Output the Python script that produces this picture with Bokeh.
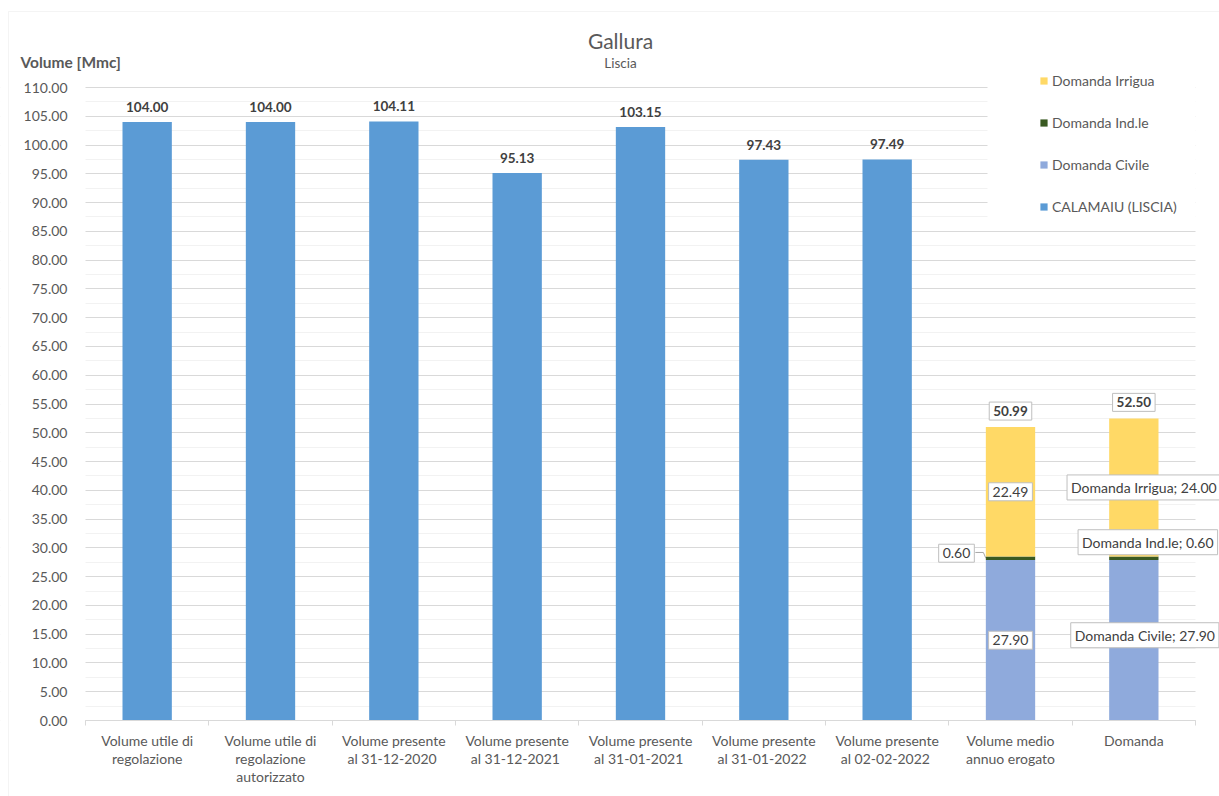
from bokeh.plotting import figure
from bokeh.models import (ColumnDataSource, LabelSet, Label, Legend, LegendItem,
                          FixedTicker, NumeralTickFormatter, BoxAnnotation, Range1d)
from bokeh.core.properties import value
from bokeh.embed import file_html
from bokeh.resources import INLINE

# ---------------- data ----------------
categories = ["Volume utile di\nregolazione",
              "Volume utile di\nregolazione\nautorizzato",
              "Volume presente\nal  31-12-2020",
              "Volume presente\nal  31-12-2021",
              "Volume presente\nal  31-01-2021",
              "Volume presente\nal  31-01-2022",
              "Volume presente\nal  02-02-2022",
              "Volume medio\nannuo erogato",
              "Domanda"]
calamaiu = [104.00, 104.00, 104.11, 95.13, 103.15, 97.43, 97.49]
civile = [27.90, 27.90]
indle = [0.60, 0.60]
irrigua = [22.49, 24.00]
totals = [50.99, 52.50]
y_ticks = [0, 5, 10, 15, 20, 25, 30, 35, 40, 45, 50, 55, 60, 65, 70, 75, 80, 85, 90, 95, 100, 105, 110]

series_names = ["Domanda Civile", "Domanda Ind.le", "Domanda Irrigua"]

# ---------------- style / layout ----------------
col_blue = "#5B9BD5"
col_civ = "#8FAADC"
col_ind = "#3A5A22"
col_irr = "#FFD966"
FONT = "Lato"
TXT = "#595959"
LBL = "#404040"
W, H = 1219, 796
PL, PR, PT, PB = 85, 1195, 87, 720          # plot-area edges in page pixels
YMAX = 110

ncat = len(categories)
cw = (PR - PL) / ncat                        # pixels per category
py = (PB - PT) / YMAX                        # pixels per unit
x_start = 0.5 - PL / cw
x_end = ncat + 0.5 + (W - PR) / cw
y_start = -(H - PB) / py
y_end = YMAX + PT / py

xpos = list(range(1, ncat + 1))
x_blue = xpos[:len(calamaiu)]
x_stack = xpos[len(calamaiu):]

p = figure(width=W, height=H, output_backend="svg", toolbar_location=None,
           x_range=Range1d(x_start, x_end), y_range=Range1d(y_start, y_end),
           min_border=0, min_border_left=0, min_border_right=0,
           min_border_top=0, min_border_bottom=0,
           background_fill_color="white", border_fill_color="white")
p.outline_line_color = None

# ---- axes (placed inside the canvas) ----
p.xaxis.fixed_location = 0
p.xaxis.bounds = (0.5, ncat + 0.5)
p.xaxis.ticker = FixedTicker(ticks=xpos, minor_ticks=[x - 0.5 for x in xpos] + [xpos[-1] + 0.5])
p.xaxis.major_label_overrides = {x: c for x, c in zip(xpos, categories)}
p.xaxis.major_tick_out = 0
p.xaxis.major_tick_in = 0
p.xaxis.minor_tick_out = 5
p.xaxis.minor_tick_in = 0
p.xaxis.minor_tick_line_color = "#d9d9d9"
p.xaxis.axis_line_color = "#d9d9d9"
p.xaxis.major_label_text_font = FONT
p.xaxis.major_label_text_font_size = "14px"
p.xaxis.major_label_text_color = TXT
p.xaxis.major_label_text_line_height = 1.06
p.xaxis.major_label_standoff = 6

p.yaxis.fixed_location = 0.5
p.yaxis.ticker = FixedTicker(ticks=y_ticks, minor_ticks=[t + 2.5 for t in y_ticks[:-1]])
p.yaxis.formatter = NumeralTickFormatter(format="0.00")
p.yaxis.axis_line_color = None
p.yaxis.major_tick_line_color = None
p.yaxis.minor_tick_line_color = None
p.yaxis.major_label_text_font = FONT
p.yaxis.major_label_text_font_size = "14px"
p.yaxis.major_label_text_color = TXT
p.yaxis.major_label_standoff = 12

p.xgrid.grid_line_color = None
p.ygrid.grid_line_color = "#d9d9d9"
p.ygrid.minor_grid_line_color = "#f2f2f2"

# ---- white areas: outside the plot area and behind the legend ----
def cover(l, r, b, t):
    p.add_layout(BoxAnnotation(left=l, right=r, bottom=b, top=t,
                               left_units="screen", right_units="screen",
                               top_units="screen", bottom_units="screen",
                               fill_color="white", fill_alpha=1.0, line_color=None,
                               level="underlay"))

cover(-5, PL, -5, H + 5)
cover(PR, W + 5, -5, H + 5)
cover(987, PR, H - 223, H - 50)

# outer chart border
p.add_layout(BoxAnnotation(left=8, right=W + 10, top=H - 11, bottom=-10,
                           left_units="screen", right_units="screen",
                           top_units="screen", bottom_units="screen",
                           fill_alpha=0, line_color="#d9d9d9", line_width=1,
                           level="underlay"))

# ---- bars ----
src_blue = ColumnDataSource(dict(x=x_blue, v=calamaiu, t=[f"{v:.2f}" for v in calamaiu]))
r_blue = p.vbar(x="x", top="v", width=0.4, source=src_blue, fill_color=col_blue, line_color=None)

src_stack = ColumnDataSource(dict(x=x_stack, civ=civile, ind=indle, irr=irrigua))
rs = p.vbar_stack(["civ", "ind", "irr"], x="x", width=0.4, source=src_stack,
                  fill_color=[col_civ, col_ind, col_irr], line_color=None)

# ---- data labels ----
p.add_layout(LabelSet(x="x", y="v", text="t", source=src_blue, text_align="center",
                      text_baseline="middle", y_offset=15, text_font=value(FONT),
                      text_font_size=value("13.5px"), text_font_style="bold", text_color=LBL))

box_style = dict(text_align="center", text_baseline="middle", text_font=FONT,
                 text_font_size="14px", text_color=LBL,
                 background_fill_color="white", border_line_color="#bfbfbf", padding=4)

for x, tot in zip(x_stack, totals):
    p.add_layout(Label(x=x, y=tot, text=f"{tot:.2f}", y_offset=16,
                       **dict(box_style, text_font_size="13.5px"), text_font_style="bold"))

styles_dx = [[0, -54, 0], [11, 14, 10]]
styles_dy = [[0, 5, 0], [5, 16, 0]]
for i, x in enumerate(x_stack):
    vals = [civile[i], indle[i], irrigua[i]]
    base = 0.0
    for j, v in enumerate(vals):
        mid = base + v / 2
        base += v
        txt = f"{v:.2f}" if i == 0 else f"{series_names[j]}; {v:.2f}"
        p.add_layout(Label(x=x, y=mid, text=txt, x_offset=styles_dx[i][j],
                           y_offset=styles_dy[i][j], **box_style))

# leader line for the small 0.60 label
lx = x_stack[0] - 0.2
ly = civile[0] + indle[0] / 2
p.line(x=[lx - 0.085, lx - 0.02, lx], y=[ly + 1.0, ly + 1.0, ly], line_color="#a6a6a6", line_width=1)

# ---- titles ----
p.add_layout(Label(x=620, y=H - 40, x_units="screen", y_units="screen", text="Gallura",
                   text_align="center", text_baseline="middle", text_font=FONT,
                   text_font_size="21px", text_color=TXT))
p.add_layout(Label(x=620, y=H - 62, x_units="screen", y_units="screen", text="Liscia",
                   text_align="center", text_baseline="middle", text_font=FONT,
                   text_font_size="13.5px", text_color=TXT))
p.add_layout(Label(x=20, y=H - 61, x_units="screen", y_units="screen", text="Volume [Mmc]",
                   text_align="left", text_baseline="middle", text_font=FONT,
                   text_font_size="15.5px", text_font_style="bold", text_color=TXT))

# ---- legend ----
legend = Legend(items=[LegendItem(label="Domanda Irrigua", renderers=[rs[2]]),
                       LegendItem(label="Domanda Ind.le", renderers=[rs[1]]),
                       LegendItem(label="Domanda Civile", renderers=[rs[0]]),
                       LegendItem(label="CALAMAIU (LISCIA)", renderers=[r_blue])],
                location=(1039, H - 215), orientation="vertical",
                glyph_width=9, glyph_height=9, label_height=17, spacing=25,
                padding=10, margin=0, label_standoff=4,
                label_text_font=FONT, label_text_font_size="14px", label_text_color=TXT,
                background_fill_color="white", background_fill_alpha=1.0,
                border_line_color=None)
p.add_layout(legend)

open("out.html", "w").write(file_html(p, INLINE))
